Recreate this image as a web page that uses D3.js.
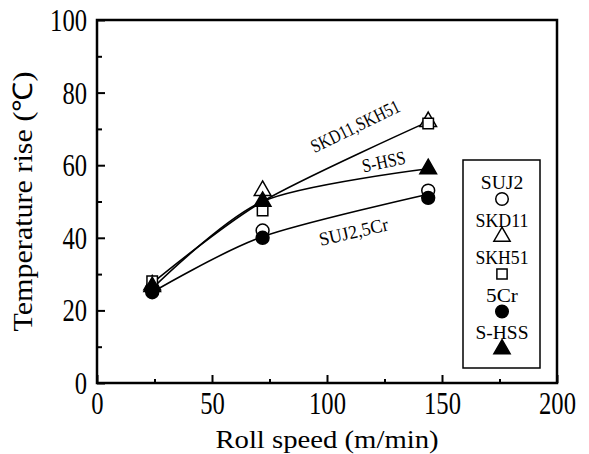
<!DOCTYPE html>
<html>
<head>
<meta charset="utf-8">
<script src="https://cdn.jsdelivr.net/npm/d3@7"></script>
<style>
  body { margin: 0; background: #fff; }
  svg text { font-family: 'Liberation Serif', 'Times New Roman', serif; fill: #000; }
</style>
</head>
<body>
<div id="chart"></div>
<script>
// roll speeds (m/min)
const speeds = [24, 72, 144];

// temperature rise (°C) for each roll material
const suj2 = [26, 42, 53];
const skd11 = [27, 53, 72];
const skh51 = [28, 47.5, 71.5];
const cr5 = [25, 40, 51];
const shss = [26.5, 50, 59];

// fitted curves drawn through the groups
const curveHigh = [27.5, 50, 72];
const curveHss = [26, 50, 59];
const curveLow = [25, 40.3, 52];

const xTicks = [0, 50, 100, 150, 200];
const yTicks = [0, 20, 40, 60, 80, 100];

const width = 589, height = 454;
const margin = {left: 97, right: 32, top: 20, bottom: 71};
const FONT = "'Liberation Serif', 'Times New Roman', serif";

const svg = d3.select("#chart").append("svg")
  .attr("width", width)
  .attr("height", height)
  .attr("font-family", FONT);

const x = d3.scaleLinear().domain([0, 200]).range([margin.left, width - margin.right]);
const y = d3.scaleLinear().domain([0, 100]).range([height - margin.bottom, margin.top]);

// squeeze glyphs so they look like the narrow typeface of the original
function narrow(sel, perChar) {
  sel.each(function () {
    const t = d3.select(this);
    t.attr("font-family", FONT)
      .attr("textLength", t.text().length * perChar)
      .attr("lengthAdjust", "spacingAndGlyphs");
  });
}

// minor ticks
svg.append("g")
  .attr("transform", `translate(${margin.left},0)`)
  .call(d3.axisRight(y).tickValues(d3.range(10, 100, 20)).tickSize(5).tickFormat(""))
  .call(g => g.select(".domain").remove())
  .selectAll("line").attr("stroke-width", 2);
svg.append("g")
  .attr("transform", `translate(0,${height - margin.bottom})`)
  .call(d3.axisTop(x).tickValues(d3.range(25, 200, 50)).tickSize(4).tickFormat(""))
  .call(g => g.select(".domain").remove())
  .selectAll("line").attr("stroke-width", 2);

// major ticks + labels
const yAxis = svg.append("g")
  .attr("transform", `translate(${margin.left},0)`)
  .call(d3.axisLeft(y).tickValues(yTicks).tickSize(0).tickPadding(10));
yAxis.attr("font-family", FONT);
yAxis.select(".domain").remove();
yAxis.selectAll(".tick").append("line").attr("x2", 8).attr("stroke", "#000").attr("stroke-width", 2);
yAxis.selectAll("text").attr("font-size", 31).attr("dy", "0.34em").call(narrow, 12.3);

const xAxis = svg.append("g")
  .attr("transform", `translate(0,${height - margin.bottom})`)
  .call(d3.axisBottom(x).tickValues(xTicks).tickSize(0).tickPadding(10));
xAxis.attr("font-family", FONT);
xAxis.select(".domain").remove();
xAxis.selectAll(".tick").append("line").attr("y2", -8).attr("stroke", "#000").attr("stroke-width", 2);
xAxis.selectAll("text").attr("font-size", 31).attr("dy", "0.68em").call(narrow, 12.3);

// frame
svg.append("rect")
  .attr("x", x(0)).attr("y", y(100))
  .attr("width", x(200) - x(0)).attr("height", y(0) - y(100))
  .attr("fill", "none").attr("stroke", "#000").attr("stroke-width", 2.5);

// axis titles
svg.append("text")
  .attr("transform", `translate(32,${(y(0) + y(100)) / 2}) rotate(-90)`)
  .attr("text-anchor", "middle")
  .attr("font-size", 27)
  .text("Temperature rise (℃)")
  .call(narrow, 13);

svg.append("text")
  .attr("x", (x(0) + x(200)) / 2)
  .attr("y", 448)
  .attr("text-anchor", "middle")
  .attr("font-size", 25)
  .text("Roll speed (m/min)")
  .call(narrow, 12.4);

// curves
const line = d3.line()
  .x((d, i) => x(speeds[i]))
  .y(d => y(d))
  .curve(d3.curveCardinal.tension(0.15));

[curveHigh, curveHss, curveLow].forEach(c => {
  svg.append("path")
    .attr("d", line(c))
    .attr("fill", "none")
    .attr("stroke", "#000")
    .attr("stroke-width", 1.6);
});

// markers
const series = [
  {name: "SUJ2", values: suj2, shape: d3.symbolCircle, size: 130, fill: "#fff"},
  {name: "SKD11", values: skd11, shape: d3.symbolTriangle, size: 120, fill: "#fff"},
  {name: "SKH51", values: skh51, shape: d3.symbolSquare, size: 110, fill: "#fff"},
  {name: "5Cr", values: cr5, shape: d3.symbolCircle, size: 130, fill: "#000"},
  {name: "S-HSS", values: shss, shape: d3.symbolTriangle, size: 120, fill: "#000"}
];

series.forEach(s => {
  svg.append("g").selectAll("path")
    .data(s.values)
    .enter().append("path")
    .attr("transform", (d, i) => `translate(${x(speeds[i])},${y(d)})`)
    .attr("d", d3.symbol().type(s.shape).size(s.size))
    .attr("fill", s.fill)
    .attr("stroke", "#000")
    .attr("stroke-width", 1.5);
});

// curve labels
const curveLabels = [
  {text: "SKD11,SKH51", x: 358, y: 132, angle: -26},
  {text: "S-HSS", x: 385, y: 168, angle: -12},
  {text: "SUJ2,5Cr", x: 355, y: 238, angle: -13}
];
curveLabels.forEach(l => {
  svg.append("text")
    .attr("transform", `translate(${l.x},${l.y}) rotate(${l.angle})`)
    .attr("text-anchor", "middle")
    .attr("font-size", 19)
    .text(l.text)
    .call(narrow, 8.8);
});

// legend
const legend = svg.append("g");
legend.append("rect")
  .attr("x", 463).attr("y", 160)
  .attr("width", 77).attr("height", 208)
  .attr("fill", "#fff").attr("stroke", "#000").attr("stroke-width", 1.5);

series.forEach((s, i) => {
  const top = 160 + i * 37.5;
  legend.append("text")
    .attr("x", 502).attr("y", top + 29)
    .attr("text-anchor", "middle")
    .attr("font-size", 18)
    .text(s.name)
    .call(narrow, 10.6);
  legend.append("path")
    .attr("transform", `translate(502,${top + 39})`)
    .attr("d", d3.symbol().type(s.shape).size(s.size * 0.95))
    .attr("fill", s.fill)
    .attr("stroke", "#000")
    .attr("stroke-width", 1.5);
});
</script>
</body>
</html>
